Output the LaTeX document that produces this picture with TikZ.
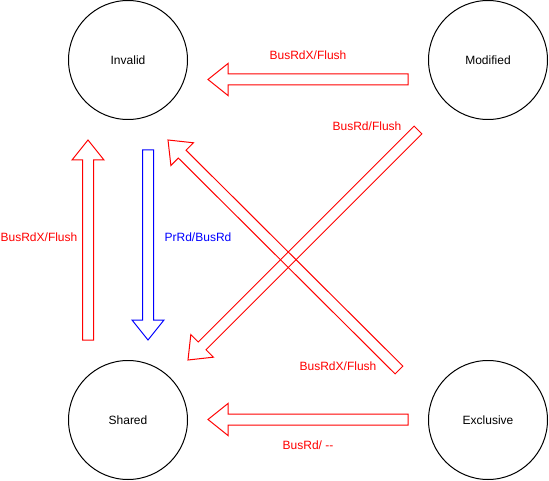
\documentclass[tikz,border=0pt]{standalone}
\usepackage{fontspec}
\setmainfont{Liberation Sans}
\usetikzlibrary{calc}
\tikzset{
  state/.style={circle, draw=black, line width=1pt, minimum size=119pt, inner sep=0pt, font=\fontsize{12}{14}\selectfont},
  lbl/.style={font=\fontsize{12}{14}\selectfont, text=red, inner sep=0pt},
  blbl/.style={lbl, text=blue},
  barrow/.style={line width=1pt, line join=miter}
}
% block arrow: #1 colour, #2 start coordinate, #3 end (tip) coordinate
\newcommand\blockarrow[3]{%
  \path coordinate (hh) at ($(#3)!20pt!(#2)$);
  \draw[barrow, draw=#1]
    ($(#2)!5.5pt!90:(#3)$) -- ($(hh)!5.5pt!-90:(#2)$) -- ($(hh)!16pt!-90:(#2)$)
    -- (#3) -- ($(hh)!16pt!90:(#2)$) -- ($(hh)!5.5pt!90:(#2)$)
    -- ($(#2)!5.5pt!-90:(#3)$) -- cycle;
}
\begin{document}
\begin{tikzpicture}[x=1pt, y=-1pt]
\useasboundingbox (0,0) rectangle (549,481);
\node[state] (inv) at (128,60) {Invalid};
\node[state] (mod) at (488,60) {Modified};
\node[state] (sha) at (128,420) {Shared};
\node[state] (exc) at (488,420) {Exclusive};

\coordinate (t1) at (408,79.5);  \coordinate (t2) at (208,79.5);
\coordinate (b1) at (408,419.5); \coordinate (b2) at (208,419.5);
\coordinate (l1) at (88,340);    \coordinate (l2) at (88,140);
\coordinate (p1) at (148,150);   \coordinate (p2) at (148,340);
\coordinate (a1) at (418,130);   \coordinate (a2) at (188,360);
\coordinate (x1) at (399,370);   \coordinate (x2) at (168,140);

\blockarrow{red}{t1}{t2}
\blockarrow{red}{b1}{b2}
\blockarrow{red}{l1}{l2}
\blockarrow{blue}{p1}{p2}
\blockarrow{red}{x1}{x2}
\blockarrow{red}{a1}{a2}

\node[lbl] (lt) at (308,55) {BusRdX/Flush};
\node[lbl] (lb) at (308,445) {BusRd/ -{}-};
\node[lbl] (ll) at (39,237) {BusRdX/Flush};
\node[blbl] (lp) at (198,237) {PrRd/BusRd};
\node[lbl] (la) at (367,126) {BusRd/Flush};
\node[lbl] (lx) at (338,366) {BusRdX/Flush};
\end{tikzpicture}
\end{document}
